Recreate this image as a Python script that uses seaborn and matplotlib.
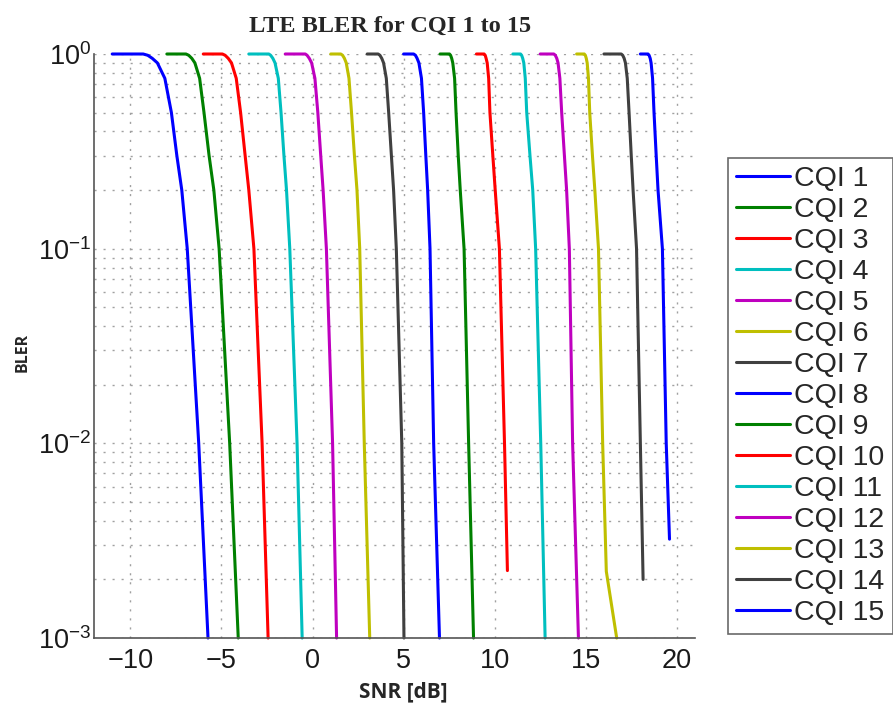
import matplotlib
matplotlib.use("Agg")
import matplotlib.pyplot as plt
import seaborn as sns
import pandas as pd
import numpy as np
from matplotlib.ticker import MultipleLocator, LogLocator, NullFormatter

# ---- data (SNR in dB at given BLER levels) ----
cqi_labels = [f"CQI {i}" for i in range(1, 16)]

bler_std = [1.0, 1.0, 0.985, 0.95, 0.9, 0.75, 0.5, 0.3, 0.2, 0.1, 0.01, 0.001]

snr_cqi1 = [-11.0, -9.3, -9.05, -8.8, -8.52, -8.11, -7.75, -7.45, -7.18, -6.88, -6.25, -5.74]
snr_cqi2 = [-8.0, -6.95, -6.8, -6.63, -6.46, -6.2, -5.96, -5.68, -5.42, -5.13, -4.55, -4.08]
snr_cqi3 = [-6.0, -4.95, -4.8, -4.63, -4.45, -4.19, -3.95, -3.7, -3.5, -3.22, -2.77, -2.44]
snr_cqi4 = [-3.5, -2.4, -2.3, -2.18, -2.06, -1.88, -1.73, -1.57, -1.43, -1.25, -0.85, -0.57]
snr_cqi5 = [-1.5, -0.4, -0.3, -0.18, -0.05, 0.13, 0.29, 0.45, 0.58, 0.76, 1.10, 1.32]
snr_cqi6 = [1.0, 1.55, 1.65, 1.75, 1.85, 2.0, 2.14, 2.3, 2.44, 2.59, 2.84, 3.14]
snr_cqi7 = [3.0, 3.6, 3.7, 3.8, 3.9, 4.05, 4.18, 4.33, 4.45, 4.6, 4.9, 5.02]
snr_cqi8 = [5.0, 5.55, 5.65, 5.74, 5.84, 5.98, 6.1, 6.22, 6.32, 6.45, 6.65, 6.97]
snr_cqi9 = [7.0, 7.52, 7.58, 7.64, 7.7, 7.8, 7.88, 8.0, 8.11, 8.32, 8.57, 8.84]
snr_cqi10 = [9.0, 9.42, 9.48, 9.53, 9.59, 9.67, 9.74, 9.9, 10.03, 10.26, 10.54, 10.70]
bler_cqi10 = [1.0, 1.0, 0.985, 0.95, 0.9, 0.75, 0.5, 0.3, 0.2, 0.1, 0.01, 0.00222]
snr_cqi11 = [11.0, 11.42, 11.48, 11.54, 11.6, 11.68, 11.76, 11.94, 12.09, 12.25, 12.53, 12.77]
snr_cqi12 = [12.5, 13.25, 13.33, 13.41, 13.48, 13.58, 13.68, 13.83, 13.95, 14.1, 14.28, 14.6]
snr_cqi13 = [14.5, 14.92, 14.98, 15.03, 15.08, 15.15, 15.22, 15.37, 15.5, 15.7, 15.93, 16.13, 16.7]
bler_cqi13 = [1.0, 1.0, 0.985, 0.95, 0.9, 0.75, 0.5, 0.3, 0.2, 0.1, 0.01, 0.0022, 0.001]
snr_cqi14 = [16.0, 16.95, 17.03, 17.11, 17.18, 17.28, 17.38, 17.5, 17.6, 17.79, 18.0, 18.15]
bler_cqi14 = [1.0, 1.0, 0.985, 0.95, 0.9, 0.75, 0.5, 0.3, 0.2, 0.1, 0.01, 0.002]
snr_cqi15 = [18.0, 18.42, 18.48, 18.54, 18.59, 18.67, 18.75, 18.87, 18.97, 19.21, 19.42, 19.6]
bler_cqi15 = [1.0, 1.0, 0.985, 0.95, 0.9, 0.75, 0.5, 0.3, 0.2, 0.1, 0.01, 0.00322]

snr_all = [snr_cqi1, snr_cqi2, snr_cqi3, snr_cqi4, snr_cqi5, snr_cqi6, snr_cqi7,
           snr_cqi8, snr_cqi9, snr_cqi10, snr_cqi11, snr_cqi12, snr_cqi13,
           snr_cqi14, snr_cqi15]
bler_all = [bler_std] * 9 + [bler_cqi10, bler_std, bler_std, bler_cqi13,
                             bler_cqi14, bler_cqi15]

x_ticks = [-10, -5, 0, 5, 10, 15, 20]

# MATLAB-like colour cycle
cycle = ["#0000ff", "#008000", "#ff0000", "#00bfbf", "#bf00bf", "#bfbf00", "#404040"]
palette = {lab: cycle[i % 7] for i, lab in enumerate(cqi_labels)}

rows = []
for lab, xs, ys in zip(cqi_labels, snr_all, bler_all):
    for i, (x, y) in enumerate(zip(xs, ys)):
        rows.append({"CQI": lab, "SNR": x, "BLER": y, "idx": i})
df = pd.DataFrame(rows)

sns.set_style("white")
plt.rcParams["font.family"] = ["Liberation Sans", "DejaVu Sans"]
plt.rcParams["mathtext.default"] = "regular"

fig = plt.figure(figsize=(8.93, 7.11), dpi=100)
ax = fig.add_axes([94 / 893, 1 - 638 / 711, (695 - 94) / 893, (638 - 54) / 711])

sns.lineplot(data=df, x="SNR", y="BLER", hue="CQI", hue_order=cqi_labels,
             palette=palette, sort=False, estimator=None, units="CQI",
             linewidth=2.2, ax=ax, legend=True)
for ln in ax.get_lines():
    ln.set_clip_on(False)
    ln.set_solid_joinstyle("round")

ax.set_yscale("log")
ax.set_ylim(1e-3, 1)
ax.set_xlim(-12, 21)
ax.set_xticks(x_ticks)
ax.xaxis.set_minor_locator(MultipleLocator(1))
ax.yaxis.set_major_locator(LogLocator(base=10, numticks=10))
ax.yaxis.set_minor_locator(LogLocator(base=10, subs=np.arange(2, 10), numticks=20))
ax.yaxis.set_minor_formatter(NullFormatter())

grid_style = dict(linestyle=(0, (1.5, 5)), color="#a0a0a0", linewidth=1.0)
ax.grid(True, which="major", axis="both", **grid_style)
ax.grid(True, which="minor", axis="y", **grid_style)

for s in ["top", "right"]:
    ax.spines[s].set_visible(False)
for s in ["left", "bottom"]:
    ax.spines[s].set_color("#555555")
    ax.spines[s].set_linewidth(1.2)

ax.tick_params(axis="both", which="major", direction="in", length=5, width=1,
               color="#555555", labelsize=19.5, labelcolor="#1a1a1a")
ax.tick_params(axis="y", which="major", pad=2)
ax.tick_params(axis="x", which="major", pad=7)
ax.tick_params(axis="both", which="minor", direction="in", length=3, width=0.8,
               color="#555555")

ax.set_xlabel("SNR [dB]", fontsize=15, fontweight="bold", family="Open Sans")
ax.xaxis.set_label_coords((403 - 94) / 601, -(681 - 638) / 584)
ax.set_ylabel("BLER", fontsize=11.5, fontweight="bold", family="Open Sans")
ax.yaxis.set_label_coords(-(94 - 31) / 601, (638 - 352) / 584)
ax.set_title("LTE BLER for CQI 1 to 15", fontsize=17.5, fontweight="bold",
             family="Liberation Serif", pad=16, x=(390 - 94) / 601)

handles, labels = ax.get_legend_handles_labels()
ax.legend(handles, labels, loc="upper left",
          bbox_to_anchor=(728 / 893, 1 - 158 / 711), bbox_transform=fig.transFigure,
          fontsize=20.5, frameon=True, fancybox=False, edgecolor="#444444",
          handlelength=1.9, handletextpad=0.15, labelspacing=0.175,
          borderpad=0.28, borderaxespad=0)
leg = ax.get_legend()
leg.get_frame().set_linewidth(1.2)
for ln in leg.get_lines():
    ln.set_linewidth(2.2)

fig.savefig("out.png", dpi=100)
